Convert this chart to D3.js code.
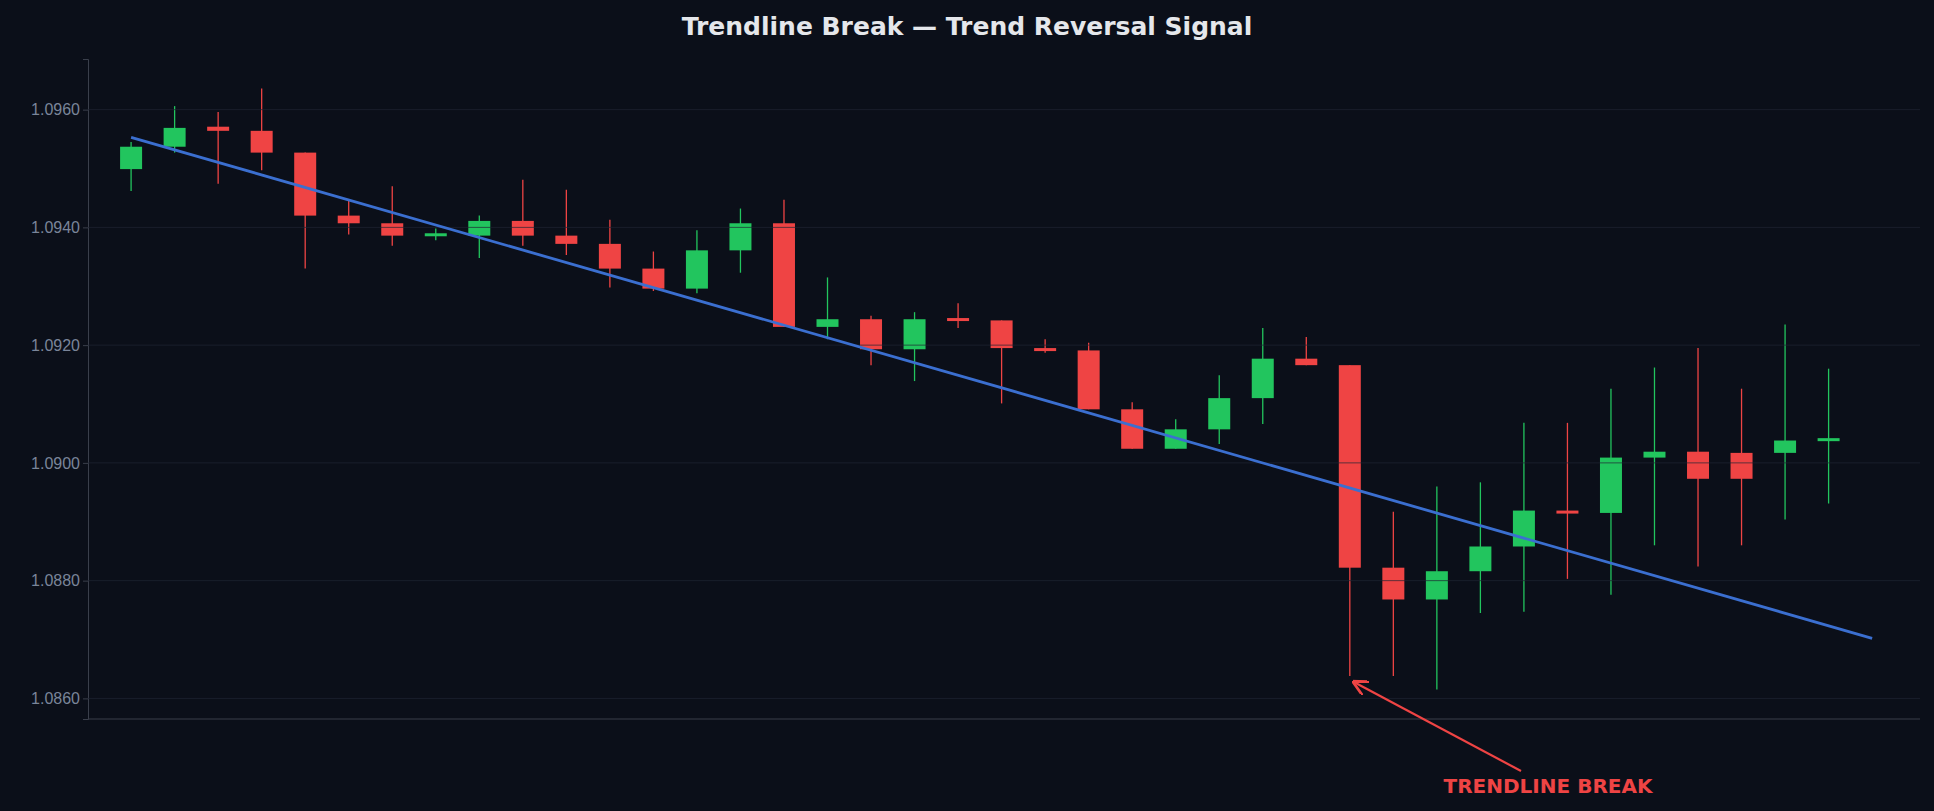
<!DOCTYPE html>
<html><head><meta charset="utf-8">
<script src="https://cdn.jsdelivr.net/npm/d3@7"></script>
<style>body{margin:0;background:#0b0f19;}svg{display:block;font-family:"DejaVu Sans",sans-serif;}</style>
</head><body>
<svg id="c" width="1934" height="811"></svg>
<script>
const opens  = [1.09499,1.09537,1.09571,1.09564,1.09527,1.09420,1.09407,1.09386,1.09386,1.09411,1.09386,1.09372,1.09330,1.09296,1.09361,1.09407,1.09231,1.09244,1.09193,1.09246,1.09242,1.09195,1.09191,1.09091,1.09024,1.09057,1.09110,1.09177,1.09166,1.08822,1.08768,1.08816,1.08858,1.08919,1.08915,1.09009,1.09019,1.09017,1.09017,1.09038];
const closes = [1.09537,1.09569,1.09564,1.09527,1.09420,1.09407,1.09386,1.09390,1.09411,1.09386,1.09372,1.09330,1.09296,1.09361,1.09407,1.09231,1.09244,1.09193,1.09244,1.09242,1.09195,1.09191,1.09091,1.09024,1.09057,1.09110,1.09177,1.09166,1.08822,1.08768,1.08816,1.08858,1.08919,1.08915,1.09009,1.09019,1.08973,1.08973,1.09038,1.09042];
const highs  = [1.09545,1.09606,1.09596,1.09636,1.09527,1.09447,1.09470,1.09398,1.09420,1.09481,1.09464,1.09413,1.09359,1.09395,1.09432,1.09447,1.09315,1.09250,1.09256,1.09271,1.09242,1.09210,1.09204,1.09103,1.09074,1.09149,1.09229,1.09214,1.09166,1.08917,1.08960,1.08967,1.09068,1.09068,1.09126,1.09162,1.09195,1.09126,1.09235,1.09160];
const lows   = [1.09462,1.09527,1.09474,1.09497,1.09330,1.09388,1.09369,1.09378,1.09348,1.09369,1.09353,1.09298,1.09292,1.09288,1.09323,1.09231,1.09210,1.09166,1.09139,1.09229,1.09101,1.09187,1.09091,1.09024,1.09024,1.09032,1.09066,1.09166,1.08638,1.08638,1.08615,1.08745,1.08747,1.08803,1.08776,1.08860,1.08824,1.08860,1.08904,1.08931];
const trendIdx = [0, 40];
const trendVal = [1.09553, 1.08702];
const yTicks = [1.0860, 1.0880, 1.0900, 1.0920, 1.0940, 1.0960];
const title = "Trendline Break — Trend Reversal Signal";
const breakLabel = "TRENDLINE BREAK";
const breakPoint = {i: 28, v: 1.08633};

const svg = d3.select("#c");
const L=88, R=1920, T=59, B=719;
const x = d3.scaleLinear().domain([-0.99, 41.1]).range([L, R]);
const y = d3.scaleLinear().domain([1.08565, 1.09686]).range([B, T]);
const green="#22c55e", red="#ef4444";

svg.append("text").attr("x",967).attr("y",35).attr("text-anchor","middle")
  .attr("fill","#e5e7eb").attr("font-size",25).attr("font-weight","bold").text(title);

const ya = svg.append("g").attr("transform",`translate(${L},0)`)
  .call(d3.axisLeft(y).tickValues(yTicks).tickFormat(d3.format(".4f")).tickSize(5));
ya.select(".domain").attr("stroke","#3a3f4b");
ya.selectAll(".tick line").attr("stroke","#3a3f4b");
ya.selectAll("text").attr("fill","#7a8599").attr("font-size",16);
svg.append("line").attr("x1",L).attr("x2",R).attr("y1",B).attr("y2",B).attr("stroke","#3a3f4b");

const idx = d3.range(opens.length);
const g = svg.append("g");
g.selectAll(".w").data(idx).join("line")
  .attr("x1",i=>x(i)).attr("x2",i=>x(i)).attr("y1",i=>y(highs[i])).attr("y2",i=>y(lows[i]))
  .attr("stroke",i=>closes[i]>=opens[i]?green:red).attr("stroke-width",1.3);
g.selectAll(".b").data(idx).join("rect")
  .attr("x",i=>x(i)-11).attr("width",22)
  .attr("y",i=>y(Math.max(opens[i],closes[i])))
  .attr("height",i=>Math.max(3,Math.abs(y(opens[i])-y(closes[i]))))
  .attr("fill",i=>closes[i]>=opens[i]?green:red);

svg.append("g").selectAll("line").data(yTicks).join("line")
  .attr("x1",L).attr("x2",R).attr("y1",d=>y(d)).attr("y2",d=>y(d))
  .attr("stroke","#1f2533").attr("stroke-opacity",0.7).attr("stroke-width",1);

svg.append("line").attr("x1",x(trendIdx[0])).attr("y1",y(trendVal[0]))
  .attr("x2",x(trendIdx[1])).attr("y2",y(trendVal[1]))
  .attr("stroke","#3b6fd0").attr("stroke-width",2.8);

svg.append("defs").append("marker").attr("id","ah").attr("viewBox","0 0 10 10")
  .attr("refX",9).attr("refY",5).attr("markerWidth",7).attr("markerHeight",7).attr("orient","auto")
  .append("path").attr("d","M0,0 L10,5 L0,10").attr("fill","none").attr("stroke",red).attr("stroke-width",1.8);
svg.append("line").attr("x1",1521).attr("y1",771).attr("x2",x(breakPoint.i)+4).attr("y2",y(breakPoint.v)+3)
  .attr("stroke",red).attr("stroke-width",2.2).attr("marker-end","url(#ah)");
svg.append("text").attr("x",1548).attr("y",793).attr("text-anchor","middle")
  .attr("fill",red).attr("font-size",20).attr("font-weight","bold").text(breakLabel);
</script>
</body></html>
